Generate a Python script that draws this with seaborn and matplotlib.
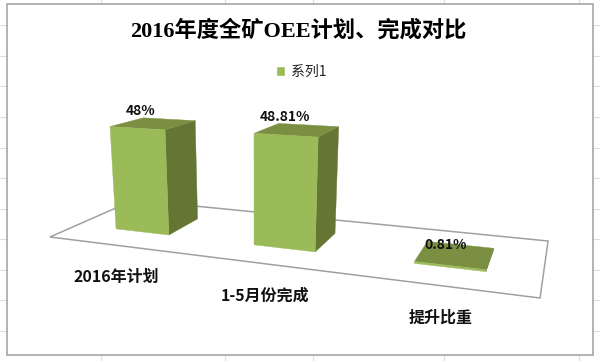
import matplotlib
matplotlib.use("Agg")
import numpy as np
import pandas as pd
import seaborn as sns
import matplotlib.pyplot as plt
from matplotlib.patches import Polygon, Rectangle, Patch
from matplotlib.transforms import Affine2D, Transform

# ---- data -------------------------------------------------------------
categories = ["2016年计划", "1-5月份完成", "提升比重"]
values = [0.48, 0.4881, 0.0081]
value_labels = ["48%", "48.81%", "0.81%"]
series_name = "系列1"
title_text = "2016年度全矿OEE计划、完成对比"

# ---- styles -----------------------------------------------------------
FRONT, SIDE, TOP = "#9BBB59", "#647534", "#7A8F41"
FRAME, FLOOR, SHEET = "#A6A6A6", "#A0A0A0", "#D9DFEA"
BAR_WIDTH = 0.4
DEPTH_FRONT, DEPTH_BACK = 0.30, 0.70
W, H = 600, 361

sns.set_theme(style="white")
plt.rcParams["font.family"] = ["Noto Sans CJK SC", "DejaVu Sans"]

fig = plt.figure(figsize=(W / 100, H / 100), dpi=100, facecolor="white")
ax = fig.add_axes([0, 0, 1, 1])
ax.set_axis_off()

df = pd.DataFrame({"category": categories, "value": values})
sns.barplot(data=df, x="category", y="value", color=FRONT, saturation=1,
            width=BAR_WIDTH, ax=ax, legend=False)

# pixel space (origin top-left) to display
pix = Affine2D().scale(1, -1).translate(0, H) + Affine2D().scale(fig.dpi / 100)


def project(x, y, z):
    """Oblique 3-D camera: x in category units, y in value units, z = depth 0..1."""
    x, y, z = np.asarray(x, float), np.asarray(y, float), np.asarray(z, float)
    u = (x + 0.5) / len(categories)
    w = 1 - 0.2158 * u + 0.1877 * z - 0.09 * y
    px = (373.5 * u + 109.15 * z + 50 - 22.9 * y) / w
    py = (-3.3 * u + 0.54 * z + 237 - 232 * y) / w
    return np.column_stack([px, py])


class FrontPlane(Transform):
    """Sends the bars seaborn drew in (category, value) onto the chart's front plane."""
    input_dims = output_dims = 2
    is_separable = False
    has_inverse = False

    def __init__(self, plane_depth):
        super().__init__()
        self.plane_depth = plane_depth

    def transform_non_affine(self, values):
        values = np.asarray(values, float)
        return project(values[:, 0], values[:, 1], np.full(len(values), self.plane_depth))


def face(points, color, z=2):
    ax.add_patch(Polygon(points, closed=True, facecolor=color, edgecolor=color, lw=0.3,
                         transform=pix, clip_on=False, zorder=z))


# sheet gridlines outside of the chart frame
for gy in [25, 56, 86, 117, 148, 178, 209, 239, 270, 300, 331]:
    for x0, x1 in [(0, 7), (593, 600)]:
        ax.plot([x0, x1], [gy, gy], color=SHEET, lw=0.8, transform=pix, clip_on=False, zorder=0)
for gx in [101, 225, 313, 444, 579]:
    for y0, y1 in [(0, 4), (355, 361)]:
        ax.plot([gx, gx], [y0, y1], color=SHEET, lw=0.8, transform=pix, clip_on=False, zorder=0)

# chart frame
ax.add_patch(Rectangle((7, 4), 586, 351, fill=False, edgecolor=FRAME, lw=1.2,
                       transform=pix, clip_on=False, zorder=0.5))

# floor
n = len(categories)
floor = project([-0.5, n - 0.5, n - 0.5, -0.5], [0, 0, 0, 0], [0, 0, 1, 1])
ax.add_patch(Polygon(floor, closed=True, facecolor="white", edgecolor=FLOOR, lw=1.1,
                     transform=pix, clip_on=False, zorder=0.6))

# bars: front faces are seaborn's, side and top follow each bar's geometry
front_tf = FrontPlane(DEPTH_FRONT) + pix
for bar, label in zip(ax.containers[0], value_labels):
    x0, x1 = bar.get_x(), bar.get_x() + bar.get_width()
    h = bar.get_height()
    bar.set_transform(front_tf)
    bar.set_clip_on(False)
    bar.set_edgecolor(FRONT)
    bar.set_linewidth(0.3)
    bar.set_zorder(3)
    face(project([x1, x1, x1, x1], [0, h, h, 0],
                 [DEPTH_FRONT, DEPTH_FRONT, DEPTH_BACK, DEPTH_BACK]), SIDE)
    face(project([x0, x1, x1, x0], [h, h, h, h],
                 [DEPTH_FRONT, DEPTH_FRONT, DEPTH_BACK, DEPTH_BACK]), TOP)
    anchor = project([x0], [h], [DEPTH_FRONT])[0]
    ax.text(anchor[0] + 31, anchor[1] - 16, label, transform=pix, ha="center", va="center",
            fontsize=10, fontweight="bold", color="#111111", zorder=5)

# category labels below the floor's front edge
for i, cat in enumerate(categories):
    p = project([i], [0], [0])[0]
    ax.text(p[0], p[1] + 32, cat, transform=pix, ha="center", va="center",
            fontsize=11.5, fontweight="bold", color="#111111", zorder=5)

# title and legend
ax.text(298, 31, title_text, transform=pix, ha="center", va="center", fontsize=16,
        fontweight="bold", family=["Liberation Serif", "Noto Sans CJK SC"], color="black", zorder=5)
ax.legend(handles=[Patch(facecolor=FRONT, label=series_name)], frameon=False, loc="center",
          bbox_to_anchor=(301 / W, 1 - 72 / H), fontsize=10, handlelength=0.65,
          handleheight=0.65, handletextpad=0.4, borderpad=0, labelcolor="#222222")

fig.savefig("out.png", dpi=100, facecolor="white")
